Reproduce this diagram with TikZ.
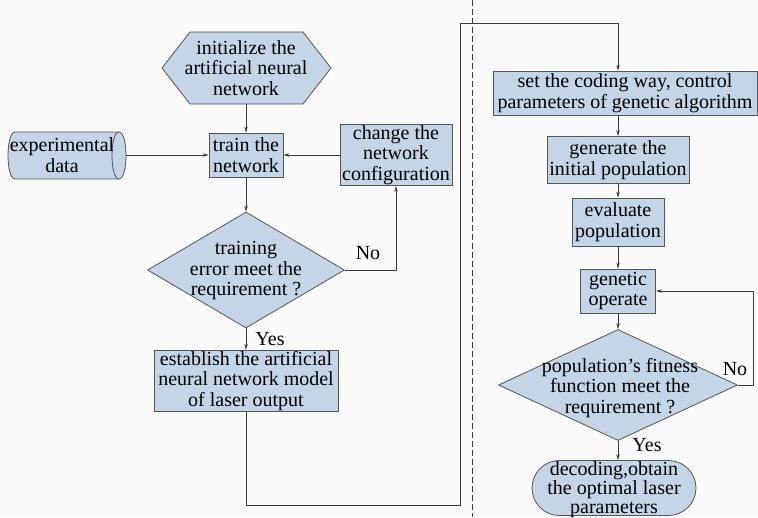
\documentclass[tikz,border=0pt]{standalone}
\usepackage{fontspec}
\setmainfont{Liberation Serif}
\usetikzlibrary{shapes.geometric,shapes.misc,arrows.meta}
\definecolor{boxfill}{RGB}{196,213,231}
\definecolor{boxline}{RGB}{85,85,85}
\definecolor{linecol}{RGB}{60,60,60}
\definecolor{bgcol}{RGB}{250,250,250}
\begin{document}
\begin{tikzpicture}[x=1pt,y=-1pt,
  font=\fontsize{20}{20.5}\selectfont,
  box/.style={draw=boxline, fill=boxfill, line width=0.8pt, align=center, inner sep=1pt},
  shp/.style={draw=boxline, fill=boxfill, line width=0.8pt, inner sep=0pt},
  lbl/.style={align=center, inner sep=0pt},
  arr/.style={draw=linecol, line width=0.8pt, -{Stealth[length=6pt,width=3.5pt]}},
  ln/.style={draw=linecol, line width=0.8pt}]

\fill[bgcol] (0,0) rectangle (758,517);
\useasboundingbox (0,0) rectangle (758,517);

% dashed divider
\draw[linecol, line width=0.8pt, dash pattern=on 6pt off 3pt] (472,0) -- (472,517);

% ---------- left column ----------
% hexagon
\filldraw[draw=boxline, fill=boxfill, line width=0.8pt]
  (162,68) -- (190,32) -- (303,32) -- (331,68) -- (303,104) -- (190,104) -- cycle;
\node[lbl, minimum width=113pt, minimum height=72pt] (init) at (246,68)
  {initialize the\\artificial neural\\network};

% cylinder
\filldraw[draw=boxline, fill=boxfill, line width=0.8pt]
  (15,132) -- (119,132) .. controls (128.3,132) and (128.3,179) .. (119,179)
  -- (15,179) .. controls (5.7,179) and (5.7,132) .. (15,132) -- cycle;
\draw[boxline, line width=0.8pt] (119,132) .. controls (109.7,132) and (109.7,179) .. (119,179);
\node[lbl, minimum width=128pt, minimum height=47pt] (exp) at (62,155)
  {experimental\\data};

\node[box, minimum width=74pt, minimum height=44pt] (train) at (246,155) {train the\\network};
\node[box, minimum width=112pt, minimum height=59pt] (change) at (396,155)
  {change the\\network\\configuration};

\node[shp, diamond, minimum width=197pt, minimum height=116pt] (d1) at (246,270) {};
\node[lbl] (d1t) at (246,271) {training\\error meet the\\requirement ?};

\node[box, minimum width=184pt, minimum height=60pt] (estab) at (246,381)
  {establish the artificial\\neural network model\\of laser output};

\node[lbl] (no1) at (368,253) {No};
\node[lbl] (yes1) at (270,339) {Yes};

% ---------- right column ----------
\node[box, minimum width=264pt, minimum height=44pt] (set) at (625,93)
  {set the coding way, control\\parameters of genetic algorithm};
\node[box, minimum width=142pt, minimum height=47pt] (gen) at (618,160)
  {generate the\\initial population};
\node[box, minimum width=92pt, minimum height=48pt] (eval) at (618,222)
  {evaluate\\population};
\node[box, minimum width=75pt, minimum height=44pt] (genop) at (618,291)
  {genetic\\operate};

\node[shp, diamond, minimum width=239pt, minimum height=111pt] (d2) at (618,385) {};
\node[lbl] (d2t) at (620,388) {population's fitness\\function meet the\\requirement ?};

\node[shp, rounded rectangle, minimum width=164pt, minimum height=55pt] (dec) at (614,488) {};
\node[lbl, font=\fontsize{20}{19}\selectfont] (dect) at (614,490)
  {decoding,obtain\\the optimal laser\\parameters};

\node[lbl] (no2) at (735,369) {No};
\node[lbl] (yes2) at (647,445) {Yes};

% ---------- connectors ----------
\coordinate (bl) at (460,505);
\coordinate (tl) at (460,23);
\coordinate (r2) at (753,385);

\draw[arr] (init.south) -- (train.north);
\draw[arr] (exp.east) -- (train.west);
\draw[arr] (change.west) -- (train.east);
\draw[arr] (train.south) -- (d1.north);
\draw[arr] (d1.east) -| (change.south);
\draw[arr] (d1.south) -- (estab.north);
\draw[arr] (estab.south) |- (bl) -- (tl) -| (gen.north |- set.north);

\draw[arr] (gen.north |- set.south) -- (gen.north);
\draw[arr] (gen.south) -- (eval.north);
\draw[arr] (eval.south) -- (genop.north);
\draw[arr] (genop.south) -- (d2.north);
\draw[arr] (d2.east) -- (r2) |- (genop.east);
\draw[arr] (d2.south) -- (d2.south |- dec.north);
\end{tikzpicture}
\end{document}
